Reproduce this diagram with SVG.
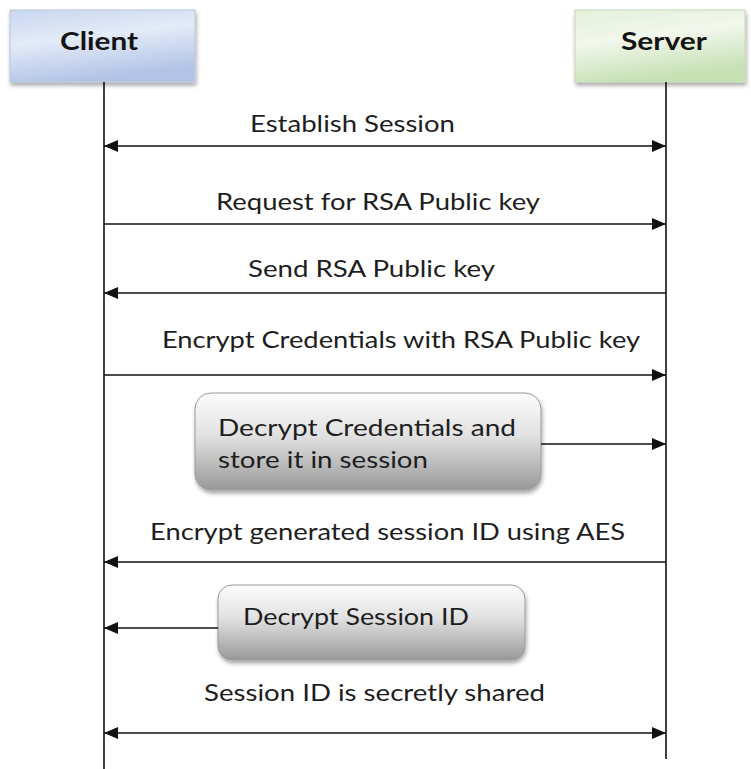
<svg xmlns="http://www.w3.org/2000/svg" width="751" height="769" viewBox="0 0 751 769">
  <style>
    .lbl { font-family: Lato, "Open Sans", "Liberation Sans", sans-serif; font-size: 24px; fill: #1e1e1e; }
    .hdr { font-family: Lato, "Open Sans", "Liberation Sans", sans-serif; font-size: 25px; font-weight: bold; fill: #141414; }
    .life { stroke: #111; stroke-width: 1.6; fill: none; }
    .msg { stroke: #111; stroke-width: 1.6; fill: none; }
  </style>
  <defs>
    <linearGradient id="gClient" x1="0" y1="0" x2="0.3" y2="1">
      <stop offset="0" stop-color="#c9d6ef"/>
      <stop offset="0.45" stop-color="#e4ebf8"/>
      <stop offset="1" stop-color="#b2c4e6"/>
    </linearGradient>
    <linearGradient id="gServer" x1="0" y1="0" x2="0.3" y2="1">
      <stop offset="0" stop-color="#e4f0dc"/>
      <stop offset="0.45" stop-color="#f1f7ec"/>
      <stop offset="1" stop-color="#c6e1b4"/>
    </linearGradient>
    <linearGradient id="gStep" x1="0" y1="0" x2="0" y2="1">
      <stop offset="0" stop-color="#fdfdfd"/>
      <stop offset="0.45" stop-color="#e0e0e0"/>
      <stop offset="1" stop-color="#989898"/>
    </linearGradient>
    <filter id="shadow" x="-10%" y="-10%" width="125%" height="130%">
      <feGaussianBlur in="SourceAlpha" stdDeviation="2"/>
      <feOffset dx="1" dy="3" result="b"/>
      <feComponentTransfer><feFuncA type="linear" slope="0.35"/></feComponentTransfer>
      <feMerge><feMergeNode/><feMergeNode in="SourceGraphic"/></feMerge>
    </filter>
    <marker id="arrBig" viewBox="0 0 14 12" refX="14" refY="6" markerWidth="14" markerHeight="12" markerUnits="userSpaceOnUse" orient="auto-start-reverse">
      <path d="M0,0 L14,6 L0,12 Z" fill="#111"/>
    </marker>
  </defs>

  <rect width="751" height="769" fill="#ffffff"/>

  <!-- participants -->
  <g id="client">
    <rect x="10" y="10" width="185" height="72" fill="url(#gClient)" stroke="#b8c6de" stroke-width="1" filter="url(#shadow)"/>
    <text class="hdr" x="99" y="50" text-anchor="middle" textLength="78" lengthAdjust="spacingAndGlyphs">Client</text>
  </g>
  <g id="server">
    <rect x="575" y="10" width="170" height="72" fill="url(#gServer)" stroke="#c6d8bb" stroke-width="1" filter="url(#shadow)"/>
    <text class="hdr" x="664" y="50" text-anchor="middle" textLength="86" lengthAdjust="spacingAndGlyphs">Server</text>
  </g>

  <!-- lifelines -->
  <g id="lifelines">
    <line class="life" x1="104" y1="82" x2="104" y2="769"/>
    <line class="life" x1="666" y1="82" x2="666" y2="759"/>
  </g>

  <!-- processing steps -->
  <g id="step-decrypt-credentials">
    <rect x="195" y="393" width="346" height="97" rx="16" ry="16" fill="url(#gStep)" stroke="#9a9a9a" stroke-width="1" filter="url(#shadow)"/>
    <text class="lbl" x="218" y="436" textLength="298" lengthAdjust="spacingAndGlyphs">Decrypt  Credentials and</text>
    <text class="lbl" x="218" y="468" textLength="210" lengthAdjust="spacingAndGlyphs">store it in session</text>
  </g>
  <g id="step-decrypt-session">
    <rect x="218" y="585" width="307" height="75" rx="14" ry="14" fill="url(#gStep)" stroke="#9a9a9a" stroke-width="1" filter="url(#shadow)"/>
    <text class="lbl" x="243" y="625" textLength="226" lengthAdjust="spacingAndGlyphs">Decrypt Session ID</text>
  </g>

  <!-- messages -->
  <g id="connectors">
    <line class="msg" x1="104" y1="146" x2="666" y2="146" marker-start="url(#arrBig)" marker-end="url(#arrBig)"/>
    <line class="msg" x1="104" y1="224" x2="666" y2="224" marker-end="url(#arrBig)"/>
    <line class="msg" x1="666" y1="293" x2="104" y2="293" marker-end="url(#arrBig)"/>
    <line class="msg" x1="104" y1="375" x2="666" y2="375" marker-end="url(#arrBig)"/>
    <line class="msg" x1="541" y1="444" x2="666" y2="444" marker-end="url(#arrBig)"/>
    <line class="msg" x1="666" y1="562" x2="104" y2="562" marker-end="url(#arrBig)"/>
    <line class="msg" x1="218" y1="628" x2="104" y2="628" marker-end="url(#arrBig)"/>
    <line class="msg" x1="104" y1="733" x2="666" y2="733" marker-start="url(#arrBig)" marker-end="url(#arrBig)"/>
  </g>

  <g id="message-labels">
    <text class="lbl" x="250" y="132" textLength="205" lengthAdjust="spacingAndGlyphs">Establish Session</text>
    <text class="lbl" x="216" y="210" textLength="324" lengthAdjust="spacingAndGlyphs">Request for RSA Public key</text>
    <text class="lbl" x="248" y="277" textLength="247" lengthAdjust="spacingAndGlyphs">Send RSA Public key</text>
    <text class="lbl" x="162" y="348" textLength="478" lengthAdjust="spacingAndGlyphs">Encrypt Credentials with RSA Public key</text>
    <text class="lbl" x="150" y="540" textLength="475" lengthAdjust="spacingAndGlyphs">Encrypt generated session ID using AES</text>
    <text class="lbl" x="204" y="701" textLength="341" lengthAdjust="spacingAndGlyphs">Session ID is secretly shared</text>
  </g>
</svg>
